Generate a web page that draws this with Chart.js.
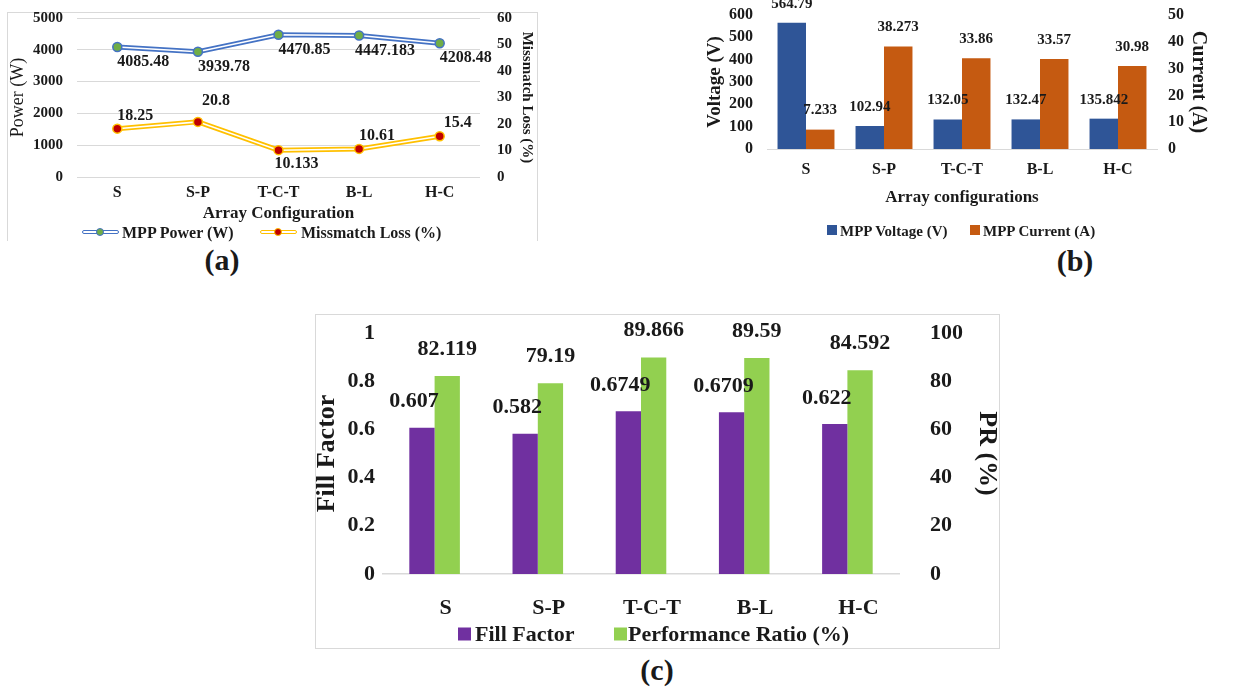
<!DOCTYPE html>
<html>
<head>
<meta charset="utf-8">
<title>PV array configurations</title>
<script src="https://cdn.jsdelivr.net/npm/chart.js@4/dist/chart.umd.min.js"></script>
<style>
  html, body { margin: 0; padding: 0; background: #fff; }
  body { position: relative; width: 1234px; height: 688px; overflow: hidden; font-family: 'Liberation Serif', 'Times New Roman', serif; color: #1a1a1a; }
  canvas, .frame, .tag, .lg { position: absolute; }
  .frame { border: 1px solid #d9d9d9; box-sizing: border-box; }
  .tag { font-weight: bold; font-size: 30px; line-height: 30px; transform: translate(-50%, -50%); }
  .lg { transform: translateY(-50%); font-weight: bold; white-space: nowrap; }
  .txt { line-height: 1; }
  .dbl { height: 2px; border: 1.5px solid; border-radius: 3px; background: #fff; }
  .dot { width: 6px; height: 6px; border: 1.5px solid; border-radius: 50%; }
</style>
</head>
<body>
<div class="frame" style="left:7px;top:12px;width:531px;height:229px;border-bottom:none"></div>
<div class="frame" style="left:315px;top:314px;width:685px;height:335px"></div>
<canvas id="chartA" width="530" height="228" style="left:7px;top:0"></canvas>
<canvas id="chartB" width="539" height="215" style="left:695px;top:0"></canvas>
<canvas id="chartC" width="684" height="334" style="left:315px;top:314px"></canvas>

<!-- legends -->
<div class="lg dbl" style="left:82px;top:232px;width:35px;border-color:#4472C4"></div>
<div class="lg dot" style="left:96px;top:232px;background:#70AD47;border-color:#4472C4"></div>
<div class="lg txt" style="left:122px;top:233px;font-size:16px">MPP Power (W)</div>
<div class="lg dbl" style="left:260px;top:232px;width:35px;border-color:#FFC000"></div>
<div class="lg dot" style="left:274px;top:232px;background:#C00000;border-color:#FFC000"></div>
<div class="lg txt" style="left:301px;top:233px;font-size:16px">Missmatch Loss (%)</div>

<div class="lg" style="left:827px;top:230px;width:10px;height:10px;background:#2F5597"></div>
<div class="lg txt" style="left:840px;top:231px;font-size:15px">MPP Voltage (V)</div>
<div class="lg" style="left:970px;top:230px;width:10px;height:10px;background:#C55A11"></div>
<div class="lg txt" style="left:983px;top:231px;font-size:15px">MPP Current (A)</div>

<div class="lg" style="left:458px;top:634px;width:13px;height:13px;background:#7030A0"></div>
<div class="lg txt" style="left:475px;top:634px;font-size:22px">Fill Factor</div>
<div class="lg" style="left:614px;top:634px;width:13px;height:13px;background:#92D050"></div>
<div class="lg txt" style="left:628px;top:634px;font-size:22px">Performance Ratio (%)</div>

<div class="tag" style="left:222px;top:260px">(a)</div>
<div class="tag" style="left:1075px;top:261px">(b)</div>
<div class="tag" style="left:657px;top:670px">(c)</div>
<script>
const configs = ["S", "S-P", "T-C-T", "B-L", "H-C"];

// (a) power and mismatch loss
const mppPower = [4085.48, 3939.78, 4470.85, 4447.183, 4208.48];
const mismatchLoss = [18.25, 20.8, 10.133, 10.61, 15.4];
const powerRange = [0, 5000, 1000];
const lossRange = [0, 60, 10];

// (b) voltage and current at MPP
const mppVoltage = [564.79, 102.94, 132.05, 132.47, 135.842];
const mppCurrent = [7.233, 38.273, 33.86, 33.57, 30.98];
const voltageRange = [0, 600, 100];
const currentRange = [0, 50, 10];

// (c) fill factor and performance ratio
const fillFactor = [0.607, 0.582, 0.6749, 0.6709, 0.622];
const perfRatio = [82.119, 79.19, 89.866, 89.59, 84.592];
const ffRange = [0, 1, 0.2];
const prRange = [0, 100, 20];

const SERIF = "'Liberation Serif', 'Times New Roman', serif";
const INK = "#1a1a1a";
Chart.defaults.font.family = SERIF;
Chart.defaults.color = INK;
Chart.defaults.animation = false;
Chart.defaults.events = [];
Chart.defaults.plugins.legend.display = false;
Chart.defaults.plugins.tooltip.enabled = false;

const bold = (size) => ({ family: SERIF, size: size, weight: "bold" });

// writes each value next to its point / bar
const valueLabels = {
  id: "valueLabels",
  afterDatasetsDraw(chart) {
    const ctx = chart.ctx;
    chart.data.datasets.forEach((ds, i) => {
      const lab = ds.valueLabel;
      if (!lab) return;
      chart.getDatasetMeta(i).data.forEach((el, j) => {
        const dy = Array.isArray(lab.dy) ? lab.dy[j] : lab.dy;
        ctx.save();
        ctx.font = "bold " + lab.size + "px " + SERIF;
        ctx.fillStyle = INK;
        ctx.textAlign = "center";
        ctx.textBaseline = "middle";
        ctx.fillText(String(ds.data[j]), el.x + lab.dx, el.y + dy);
        ctx.restore();
      });
    });
  }
};

// value axis with a fixed width; the invisible tick length sets the label gap
function valueAxis(range, side, width, tickSize, tickLen, title, extra) {
  return Object.assign({
    position: side,
    min: range[0],
    max: range[1],
    ticks: {
      stepSize: range[2], padding: 0, autoSkip: false, font: bold(tickSize), color: INK,
      format: { useGrouping: false, minimumFractionDigits: 0, maximumFractionDigits: 1 }
    },
    grid: { display: false, drawTicks: true, tickLength: tickLen, tickColor: "rgba(0,0,0,0)" },
    border: { display: false },
    title: Object.assign({ display: true, color: INK }, title),
    afterFit: (s) => { s.width = width; }
  }, extra || {});
}

function categoryAxis(height, tickSize, tickPad, title, extra) {
  return Object.assign({
    grid: { display: false, drawTicks: false },
    border: { display: false },
    ticks: { font: bold(tickSize), color: INK, padding: tickPad, maxRotation: 0 },
    title: title ? Object.assign({ display: true, color: INK }, title) : { display: false },
    afterFit: (s) => { s.height = height; }
  }, extra || {});
}

// ---- (a) ----
// each series: thick coloured stroke (order 2, drawn first) with a thin white
// stroke and the markers on top of it (order 1), which gives the double line
new Chart(document.getElementById("chartA"), {
  type: "line",
  data: {
    labels: configs,
    datasets: [
      { label: "MPP Power (W)", data: mppPower, yAxisID: "y", order: 2, borderColor: "#4472C4", borderWidth: 5,
        pointRadius: 0, tension: 0 },
      { data: mppPower, yAxisID: "y", order: 1, borderColor: "#fff", borderWidth: 1.5, tension: 0,
        pointRadius: 4.5, pointBackgroundColor: "#70AD47", pointBorderColor: "#4472C4", pointBorderWidth: 1.5,
        valueLabel: { size: 16, dx: 26, dy: 15 } },
      { label: "Missmatch Loss (%)", data: mismatchLoss, yAxisID: "y1", order: 2, borderColor: "#FFC000", borderWidth: 5,
        pointRadius: 0, tension: 0 },
      { data: mismatchLoss, yAxisID: "y1", order: 1, borderColor: "#fff", borderWidth: 1.5, tension: 0,
        pointRadius: 4.5, pointBackgroundColor: "#C00000", pointBorderColor: "#FFC000", pointBorderWidth: 1.5,
        valueLabel: { size: 16, dx: 18, dy: [-13, -21, 14, -13, -13] } }
    ]
  },
  options: {
    responsive: false,
    layout: { padding: { top: 18, left: 0, right: 0, bottom: 0 } },
    scales: {
      x: categoryAxis(51, 16, 6,
        { text: "Array Configuration", font: bold(17), padding: { top: 0, bottom: 4 } },
        { offset: true }),
      y: valueAxis(powerRange, "left", 70, 15, 14,
        { text: "Power (W)", font: { family: SERIF, size: 18 }, padding: { top: 0, bottom: 0 } },
        { grid: { display: true, color: "#d9d9d9", drawTicks: true, tickLength: 14, tickColor: "rgba(0,0,0,0)" } }),
      y1: valueAxis(lossRange, "right", 57, 15, 17,
        { text: "Missmatch Loss (%)", font: bold(15), padding: { top: 1, bottom: 0 } })
    }
  },
  plugins: [valueLabels]
});

// ---- (b) ----
new Chart(document.getElementById("chartB"), {
  type: "bar",
  data: {
    labels: configs,
    datasets: [
      { label: "MPP Voltage (V)", data: mppVoltage, yAxisID: "y", backgroundColor: "#2F5597",
        valueLabel: { size: 15, dx: 0, dy: -19 } },
      { label: "MPP Current (A)", data: mppCurrent, yAxisID: "y1", backgroundColor: "#C55A11",
        valueLabel: { size: 15, dx: 0, dy: -19 } }
    ]
  },
  options: {
    responsive: false,
    datasets: { bar: { categoryPercentage: 0.73, barPercentage: 1 } },
    layout: { padding: { top: 15, left: 0, right: 0, bottom: 0 } },
    scales: {
      x: categoryAxis(66, 16, 11,
        { text: "Array configurations", font: bold(17), padding: { top: 0, bottom: 7 } },
        { border: { display: true, color: "#d9d9d9", width: 1 } }),
      y: valueAxis(voltageRange, "left", 72, 16, 14,
        { text: "Voltage (V)", font: bold(19), padding: { top: 8.6, bottom: 0 } }),
      y1: valueAxis(currentRange, "right", 77, 16, 11,
        { text: "Current (A)", font: bold(20), padding: { top: 24, bottom: 0 } })
    }
  },
  plugins: [valueLabels]
});

// ---- (c) ----
new Chart(document.getElementById("chartC"), {
  type: "bar",
  data: {
    labels: configs,
    datasets: [
      { label: "Fill Factor", data: fillFactor, yAxisID: "y", backgroundColor: "#7030A0",
        valueLabel: { size: 22, dx: -8, dy: -26 } },
      { label: "Performance Ratio (%)", data: perfRatio, yAxisID: "y1", backgroundColor: "#92D050",
        valueLabel: { size: 22, dx: 0, dy: -27 } }
    ]
  },
  options: {
    responsive: false,
    datasets: { bar: { categoryPercentage: 0.49, barPercentage: 1 } },
    layout: { padding: { top: 19, left: 0, right: 0, bottom: 0 } },
    scales: {
      x: categoryAxis(74, 22, 21, null, {
        border: { display: true, color: "#d9d9d9", width: 1.5 },
        ticks: { font: bold(22), color: INK, padding: 21, maxRotation: 0, labelOffset: 11 }
      }),
      y: valueAxis(ffRange, "left", 68, 22, 8,
        { text: "Fill Factor", font: Object.assign(bold(26), { lineHeight: 1 }), padding: { top: -1, bottom: 0 } }),
      y1: valueAxis(prRange, "right", 100, 22, 31,
        { text: "PR (%)", font: Object.assign(bold(26), { lineHeight: 1 }), padding: { top: -1, bottom: 0 } })
    }
  },
  plugins: [valueLabels]
});
</script>
</body>
</html>
